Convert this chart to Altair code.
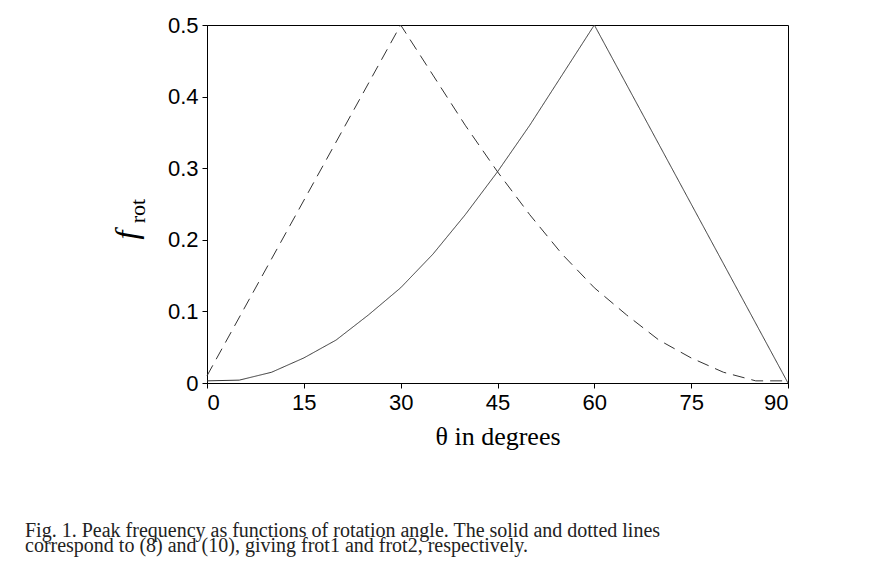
import altair as alt
import pandas as pd

angle_solid = [0, 5, 10, 15, 20, 25, 30, 35, 40, 45, 50, 55, 60, 90]
f_rot1 = [0.003, 0.004, 0.015, 0.035, 0.06, 0.095, 0.133, 0.18, 0.235, 0.295, 0.36, 0.43, 0.5, 0.0]
angle_dashed = [0, 30, 35, 40, 45, 50, 55, 60, 65, 70, 75, 80, 85, 90]
f_rot2 = [0.01, 0.5, 0.43, 0.36, 0.295, 0.235, 0.18, 0.133, 0.095, 0.06, 0.035, 0.015, 0.003, 0.003]
caption = ['Fig. 1.   Peak frequency as functions of rotation angle. The solid and dotted lines',
           'correspond to (8) and (10), giving frot1 and frot2, respectively.']

df = pd.concat([
    pd.DataFrame({'theta': angle_solid, 'f': f_rot1, 'curve': 'frot1'}),
    pd.DataFrame({'theta': angle_dashed, 'f': f_rot2, 'curve': 'frot2'}),
])

lines = alt.Chart(df).mark_line(color='#333', strokeWidth=1).encode(
    x=alt.X('theta:Q', scale=alt.Scale(domain=[0, 90], nice=False),
            axis=alt.Axis(values=[0, 15, 30, 45, 60, 75, 90], title='θ  in degrees',
                          titleFont='Liberation Serif', titleFontSize=26,
                          titleFontWeight='normal', titlePadding=10,
                          labelFont='Liberation Sans', labelFontSize=22)),
    y=alt.Y('f:Q', scale=alt.Scale(domain=[0, 0.5], nice=False),
            axis=alt.Axis(values=[0, 0.1, 0.2, 0.3, 0.4, 0.5], format='.1~f', title=None,
                          labelFont='Liberation Sans', labelFontSize=22)),
    strokeDash=alt.StrokeDash('curve:N', scale=alt.Scale(domain=['frot1', 'frot2'],
                              range=[[1, 0], [12, 7]]), legend=None),
    detail='curve:N',
)

ylab_f = alt.Chart(pd.DataFrame({'t': ['f']})).mark_text(
    font='Liberation Serif', fontStyle='italic', fontSize=32, angle=270
).encode(text='t:N', x=alt.value(-80), y=alt.value(210))
ylab_rot = alt.Chart(pd.DataFrame({'t': ['rot']})).mark_text(
    font='Liberation Serif', fontSize=22, angle=270
).encode(text='t:N', x=alt.value(-69), y=alt.value(186))

cap = alt.Chart(pd.DataFrame({'t': caption, 'row': [0, 1]})).mark_text(
    font='Liberation Serif', fontSize=20, align='left', color='#222'
).encode(text='t:N', x=alt.value(-182),
         y=alt.Y('row:O', axis=None, scale=alt.Scale(range=[498, 528])))

chart = alt.layer(lines, ylab_f, ylab_rot, cap).resolve_scale(y='independent').properties(
    width=581, height=358,
    autosize=alt.AutoSizeParams(type='none'),
    padding={'left': 199, 'top': 17, 'right': 100, 'bottom': 200},
).configure_view(stroke='black', strokeWidth=1).configure_axis(
    grid=False, labelColor='black', domainColor='black', tickColor='black',
    tickSize=5, labelPadding=4,
)

chart.save('out.html', embed_options={'renderer': 'svg', 'actions': False})
